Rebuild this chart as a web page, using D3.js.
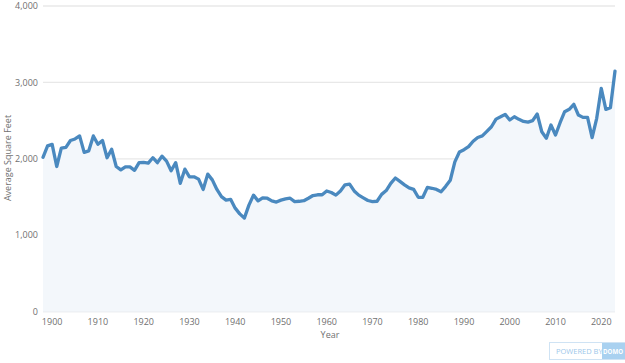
<!DOCTYPE html>
<html lang="en">
<head>
	<meta charset="utf-8">
	<script src="https://d3js.org/d3.v7.min.js"></script>
	<style>
		body { margin: 0; background: #fff; }
		text { font-family: "Open Sans", sans-serif; }
	</style>
</head>
<body>
	<div id="chart"></div>

	<script>
		// years 1898 - 2023, one value per year
		const firstYear = 1898;
		const sqft = [
			2020, 2170, 2190, 1900, 2140, 2150, 2240, 2260, 2300, 2085,
			2105, 2300, 2190, 2240, 2015, 2125, 1900, 1855, 1895, 1895,
			1850, 1950, 1955, 1945, 2015, 1950, 2035, 1970, 1845, 1950,
			1680, 1865, 1765, 1765, 1735, 1600, 1800, 1725, 1600, 1505,
			1460, 1470, 1355, 1280, 1225, 1395, 1525, 1450, 1490, 1485,
			1450, 1435, 1460, 1475, 1485, 1440, 1445, 1452, 1484, 1520,
			1530, 1530, 1580, 1560, 1525, 1580, 1660, 1670, 1580, 1525,
			1490, 1455, 1440, 1445, 1535, 1585, 1680, 1750, 1705, 1660,
			1620, 1600, 1497, 1497, 1627, 1615, 1600, 1570, 1640, 1720,
			1960, 2090, 2120, 2160, 2230, 2280, 2300, 2360, 2420, 2520,
			2550, 2582, 2508, 2551, 2517, 2490, 2480, 2500, 2587, 2355,
			2270, 2443, 2312, 2473, 2617, 2648, 2714, 2574, 2543, 2543,
			2277, 2530, 2923, 2648, 2669, 3149
		];
		const yearTicks = [1900, 1910, 1920, 1930, 1940, 1950, 1960, 1970, 1980, 1990, 2000, 2010, 2020];
		const valueTicks = [0, 1000, 2000, 3000, 4000];

		const data = sqft.map((v, i) => ({ year: firstYear + i, value: v }));

		var width = 625,
			height = 363;

		var svg = d3.select("#chart").append("svg")
			.attr("width", width)
			.attr("height", height);

		var x = d3.scaleLinear()
			.domain([firstYear, firstYear + sqft.length - 1])
			.range([43, 615]);

		var y = d3.scaleLinear()
			.domain([0, 4000])
			.range([311.7, 6]);

		// gridlines
		svg.append("g")
			.selectAll("line")
			.data(valueTicks)
			.enter()
			.append("line")
			.attr("x1", x.range()[0])
			.attr("x2", x.range()[1])
			.attr("y1", d => y(d))
			.attr("y2", d => y(d))
			.style("stroke", d => d === 0 ? "#dcdfe3" : "#e8e8e8")
			.style("stroke-width", 1.3);

		// y labels
		svg.append("g")
			.selectAll("text")
			.data(valueTicks)
			.enter()
			.append("text")
			.attr("x", 38)
			.attr("y", d => y(d))
			.attr("dy", "0.35em")
			.style("text-anchor", "end")
			.style("font-size", "9px")
			.style("fill", "#707070")
			.text(d => d3.format(",")(d));

		// x labels
		svg.append("g")
			.selectAll("text")
			.data(yearTicks)
			.enter()
			.append("text")
			.attr("x", d => x(d))
			.attr("y", 325)
			.style("text-anchor", "middle")
			.style("font-size", "9px")
			.style("fill", "#707070")
			.text(d => d);

		// axis titles
		svg.append("text")
			.attr("transform", "translate(11,158) rotate(-90)")
			.style("text-anchor", "middle")
			.style("font-size", "9px")
			.style("fill", "#707070")
			.text("Average Square Feet");

		svg.append("text")
			.attr("x", 330)
			.attr("y", 338)
			.style("text-anchor", "middle")
			.style("font-size", "9px")
			.style("fill", "#707070")
			.text("Year");

		// area under the line
		var area = d3.area()
			.x(d => x(d.year))
			.y0(y(0))
			.y1(d => y(d.value));

		svg.append("path")
			.datum(data)
			.attr("d", area)
			.style("fill", "#f3f7fb");

		var line = d3.line()
			.x(d => x(d.year))
			.y(d => y(d.value));

		svg.append("path")
			.datum(data)
			.attr("d", line)
			.style("fill", "none")
			.style("stroke", "#4a89bf")
			.style("stroke-width", 3.3)
			.style("stroke-linejoin", "round")
			.style("stroke-linecap", "round");

		// powered by badge
		var badge = svg.append("g").attr("transform", "translate(549,342)");
		badge.append("rect")
			.attr("x", 0.5).attr("y", 0.5)
			.attr("width", 80).attr("height", 17)
			.style("fill", "#fff")
			.style("stroke", "#cfe3f4");
		badge.append("text")
			.attr("x", 7).attr("y", 12)
			.style("font-size", "7.5px")
			.style("fill", "#9cc7ea")
			.text("POWERED BY");
		badge.append("rect")
			.attr("x", 53).attr("y", 1)
			.attr("width", 28).attr("height", 16)
			.style("fill", "#a9d1f0");
		badge.append("text")
			.attr("x", 54).attr("y", 12)
			.attr("textLength", 20)
			.attr("lengthAdjust", "spacingAndGlyphs")
			.style("font-size", "7px")
			.style("font-weight", "bold")
			.style("fill", "#fff")
			.text("DOMO");
	</script>
</body>
</html>
